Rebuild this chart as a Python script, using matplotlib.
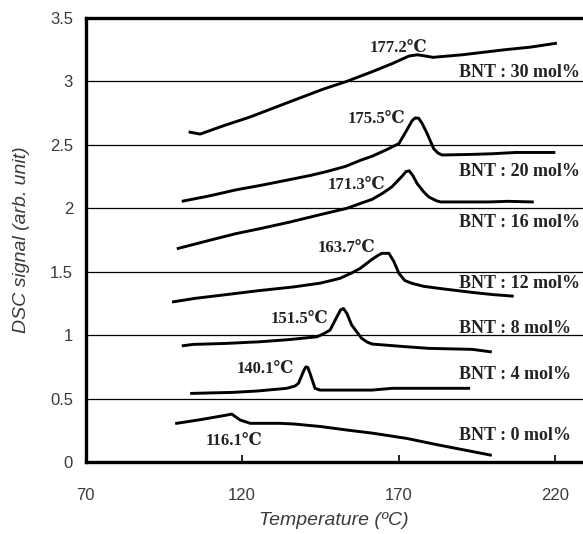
import matplotlib
matplotlib.use('Agg')
import matplotlib.pyplot as plt

# BNT content of each sample (mol%)
bnt = [30, 20, 16, 12, 8, 4, 0]

# DSC traces, temperature (C) and signal (arb. unit)
t_30 = [103.4, 106.6, 114.0, 122.6, 130.0, 138.5, 146.0, 153.4, 161.5, 167.9, 171.5, 173.3, 176.0, 178.6, 181.0, 190.3, 204.0, 212.0, 220.1]
s_30 = [2.60, 2.585, 2.65, 2.72, 2.79, 2.87, 2.94, 3.00, 3.076, 3.14, 3.18, 3.20, 3.21, 3.20, 3.19, 3.21, 3.25, 3.27, 3.30]

t_20 = [101.2, 110, 118, 125.8, 135, 142, 147.1, 153, 158, 161.5, 166, 170.1, 172.7, 174.3, 175.3, 176.4, 177.5, 179.1, 181.2, 182.6, 183.9, 193.7, 200, 207.3, 219.6]
s_20 = [2.057, 2.10, 2.145, 2.18, 2.225, 2.26, 2.29, 2.33, 2.38, 2.41, 2.46, 2.51, 2.62, 2.69, 2.712, 2.71, 2.67, 2.59, 2.47, 2.435, 2.42, 2.425, 2.43, 2.44, 2.44]

t_16 = [99.6, 110, 118, 125.8, 135, 145, 153.5, 158, 161.5, 165, 167.9, 171, 172.4, 173.4, 174.5, 175.9, 178, 179.6, 182, 183.4, 190, 198.8, 205, 212.7]
s_16 = [1.684, 1.75, 1.80, 1.84, 1.89, 1.95, 2.00, 2.04, 2.07, 2.12, 2.17, 2.25, 2.29, 2.295, 2.26, 2.196, 2.13, 2.09, 2.06, 2.05, 2.05, 2.05, 2.055, 2.05]

t_12 = [98.1, 105, 115.1, 125, 136.4, 145, 151.3, 155, 157.7, 161.5, 163.5, 164.7, 166.9, 168.5, 170.1, 172, 174.3, 178, 182.8, 193.5, 200, 206.3]
s_12 = [1.263, 1.29, 1.32, 1.35, 1.38, 1.41, 1.448, 1.49, 1.526, 1.597, 1.63, 1.645, 1.645, 1.58, 1.487, 1.43, 1.408, 1.385, 1.369, 1.337, 1.32, 1.308]

t_8 = [101.2, 104.4, 115, 125.8, 135, 143.9, 146, 148.1, 150.3, 151.5, 152.4, 153.5, 155.0, 158.2, 160, 161.5, 172.2, 179.6, 193.5, 199.3]
s_8 = [0.917, 0.927, 0.935, 0.948, 0.965, 0.987, 1.01, 1.04, 1.145, 1.20, 1.21, 1.17, 1.08, 0.975, 0.945, 0.93, 0.909, 0.896, 0.888, 0.869]

t_4 = [103.9, 117.2, 125, 134.3, 137.0, 138.0, 139.8, 140.4, 141.0, 141.7, 143.3, 144.9, 161.5, 167.9, 192.4]
s_4 = [0.541, 0.549, 0.56, 0.581, 0.60, 0.62, 0.725, 0.75, 0.745, 0.699, 0.581, 0.567, 0.567, 0.581, 0.581]

t_0 = [99.1, 107, 115.1, 116.7, 119.4, 122.6, 132, 136.4, 145, 153.5, 161.5, 172.6, 182.8, 192, 199.3]
s_0 = [0.305, 0.335, 0.37, 0.378, 0.331, 0.305, 0.305, 0.30, 0.28, 0.252, 0.228, 0.186, 0.134, 0.09, 0.055]

temps = [t_30, t_20, t_16, t_12, t_8, t_4, t_0]
signals = [s_30, s_20, s_16, s_12, s_8, s_4, s_0]

# peak temperatures and where their labels sit
peak_temp = [177.2, 175.5, 171.3, 163.7, 151.5, 140.1, 116.1]
peak_lx = [169.8, 163.0, 156.6, 153.4, 138.2, 127.3, 117.4]
peak_ly = [3.26, 2.70, 2.18, 1.69, 1.13, 0.73, 0.168]
bnt_ly = [3.07, 2.29, 1.89, 1.41, 1.056, 0.686, 0.207]

serif = ['Liberation Serif', 'DejaVu Serif', 'Noto Sans CJK SC']
gray = '#3a3a3a'

fig = plt.figure(figsize=(5.83, 5.34), dpi=100)
ax = fig.add_axes([0.1467, 0.1348, 0.8533, 0.8315])

for y in [0.5, 1.0, 1.5, 2.0, 2.5, 3.0]:
    ax.axhline(y, color='black', lw=0.9, zorder=1)

for t, s in zip(temps, signals):
    ax.plot(t, s, color='black', lw=2.1, zorder=3, solid_joinstyle='round')

for lx, ly, p in zip(peak_lx, peak_ly, peak_temp):
    ax.text(lx, ly, '%.1f℃' % p, ha='center', va='center', fontsize=12,
            fontweight='bold', family=serif, color='#222222')

for ly, b in zip(bnt_ly, bnt):
    ax.text(189.3, ly, 'BNT : %d mol%%' % b, ha='left', va='center', fontsize=13,
            fontweight='bold', family=serif, color='#222222')

ax.set_xlim(70, 228.9)
ax.set_ylim(0, 3.5)
ax.set_xticks([70, 120, 170, 220])
ax.set_yticks([0, 0.5, 1, 1.5, 2, 2.5, 3, 3.5])
ax.set_yticklabels(['0', '0.5', '1', '1.5', '2', '2.5', '3', '3.5'])

for side in ['left', 'bottom', 'top']:
    ax.spines[side].set_linewidth(2.4)
ax.spines['right'].set_visible(False)

ax.tick_params(axis='x', direction='in', length=5, width=1.2, pad=19,
               labelsize=12, labelcolor=gray)
ax.tick_params(axis='y', length=0, pad=9, labelsize=12, labelcolor=gray)
for lab in ax.get_xticklabels() + ax.get_yticklabels():
    lab.set_family('Liberation Sans')

ax.set_xlabel('Temperature (ºC)', fontsize=14, style='italic', color=gray,
              family='Liberation Sans', labelpad=6)
ax.set_ylabel('DSC signal (arb. unit)', fontsize=14, style='italic', color=gray,
              family='Liberation Sans', labelpad=14)

fig.savefig('out.png', dpi=100)
